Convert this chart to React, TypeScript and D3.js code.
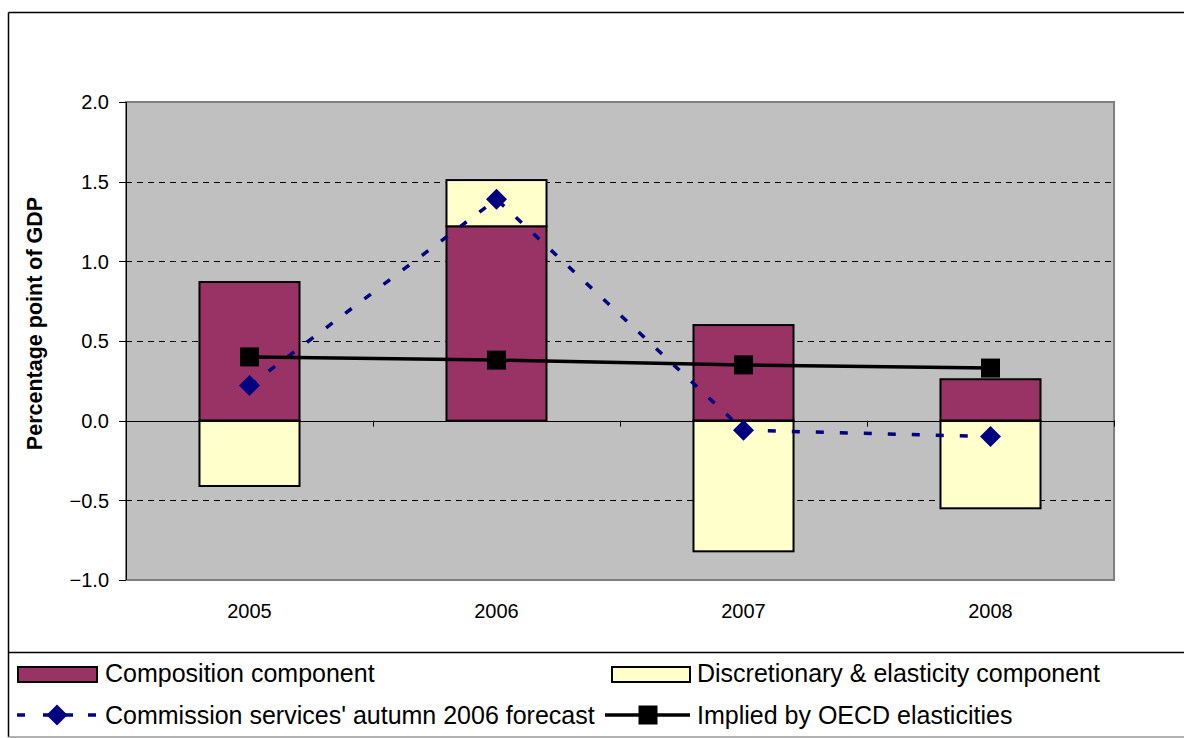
import React from "react";
import * as d3 from "d3";

// Budget balance change decomposition, percentage points of GDP
const years = ["2005", "2006", "2007", "2008"];
const composition = [0.87, 1.22, 0.6, 0.26];
const discretionary = [-0.41, 0.29, -0.82, -0.55];
const commissionForecast = [0.22, 1.39, -0.06, -0.1];
const oecdImplied = [0.4, 0.38, 0.35, 0.33];
const yTicks = [-1.0, -0.5, 0.0, 0.5, 1.0, 1.5, 2.0];

const W = 1184;
const H = 738;
const plot = { left: 126, right: 1114, top: 102, bottom: 580 };
const FONT = "'Liberation Sans', Arial, Helvetica, sans-serif";
const PURPLE = "#993366";
const CREAM = "#FFFFCC";
const NAVY = "#000080";

export default function App() {
  const x = d3.scaleBand<string>().domain(years).range([plot.left, plot.right]).padding(0);
  const y = d3.scaleLinear().domain([-1, 2]).range([plot.bottom, plot.top]);
  const barW = x.bandwidth() * 0.405;
  const cx = (yr: string) => (x(yr) as number) + x.bandwidth() / 2;

  const table = years.map((yr, i) => ({ year: yr, composition: composition[i], discretionary: discretionary[i] }));
  const stacked = d3
    .stack<any>()
    .keys(["composition", "discretionary"])
    .offset(d3.stackOffsetDiverging)(table);
  const fills = [PURPLE, CREAM];

  const lineGen = d3
    .line<number>()
    .x((_, i) => cx(years[i]))
    .y((v) => y(v));

  const diamond = (px: number, py: number, r: number) =>
    `M${px},${py - r}L${px + r},${py}L${px},${py + r}L${px - r},${py}Z`;

  const grid = yTicks.filter((t) => t !== 0 && t !== 2 && t !== -1);
  const y0 = y(0);

  return (
    <svg width={W} height={H} style={{ position: "absolute", left: 0, top: 0, background: "#fff" }} fontFamily={FONT}>
      {/* outer frame */}
      <line x1={8.5} y1={12.5} x2={W} y2={12.5} stroke="#000" strokeWidth={1.5} />
      <line x1={8.5} y1={12.5} x2={8.5} y2={737} stroke="#000" strokeWidth={1.5} />
      <line x1={8.5} y1={652.5} x2={W} y2={652.5} stroke="#000" strokeWidth={1.5} />
      <line x1={8.5} y1={737} x2={W} y2={737} stroke="#999" strokeWidth={1.5} />

      {/* plot area */}
      <rect x={plot.left} y={plot.top} width={plot.right - plot.left} height={plot.bottom - plot.top} fill="#C0C0C0" stroke="#808080" strokeWidth={2} />
      {grid.map((t) => (
        <line key={t} x1={plot.left} x2={plot.right} y1={Math.round(y(t)) + 0.5} y2={Math.round(y(t)) + 0.5} stroke="#000" strokeWidth={1} strokeDasharray="6,5" />
      ))}

      {/* bars */}
      {stacked.map((s, si) =>
        s.map((d, i) => {
          const top = y(Math.max(d[0], d[1]));
          const bot = y(Math.min(d[0], d[1]));
          return (
            <rect
              key={`${si}-${i}`}
              x={cx(years[i]) - barW / 2}
              y={top}
              width={barW}
              height={bot - top}
              fill={fills[si]}
              stroke="#000"
              strokeWidth={2}
            />
          );
        })
      )}

      {/* axes */}
      <line x1={plot.left + 0.5} x2={plot.left + 0.5} y1={plot.top} y2={plot.bottom} stroke="#000" strokeWidth={1} />
      <line x1={plot.left} x2={plot.right} y1={Math.round(y0) + 0.5} y2={Math.round(y0) + 0.5} stroke="#000" strokeWidth={1} />
      {years.map((yr) => {
        const bx = Math.round((x(yr) as number) + x.bandwidth()) + 0.5;
        return <line key={yr} x1={bx} x2={bx} y1={y0} y2={y0 + 6} stroke="#000" strokeWidth={1} />;
      })}
      {yTicks.map((t) => (
        <g key={t}>
          <line x1={plot.left - 7} x2={plot.left} y1={Math.round(y(t)) + 0.5} y2={Math.round(y(t)) + 0.5} stroke="#000" strokeWidth={1} />
          <text x={109} y={y(t)} dy="0.36em" textAnchor="end" fontSize={20} fill="#000">
            {d3.format(".1f")(t)}
          </text>
        </g>
      ))}
      {years.map((yr) => (
        <text key={yr} x={cx(yr)} y={618} textAnchor="middle" fontSize={20} fill="#000">
          {yr}
        </text>
      ))}
      <text
        transform="translate(42,323.5) rotate(-90)"
        textAnchor="middle"
        fontSize={21.5}
        fontWeight="bold"
        fill="#000"
      >
        Percentage point of GDP
      </text>

      {/* lines */}
      <path d={lineGen(commissionForecast) as string} fill="none" stroke={NAVY} strokeWidth={3.5} strokeDasharray="8,16" />
      <path d={lineGen(oecdImplied) as string} fill="none" stroke="#000" strokeWidth={3.5} />
      {commissionForecast.map((v, i) => (
        <path key={i} d={diamond(cx(years[i]), y(v), 10.5)} fill={NAVY} />
      ))}
      {oecdImplied.map((v, i) => (
        <rect key={i} x={cx(years[i]) - 9.5} y={y(v) - 9.5} width={19} height={19} fill="#000" />
      ))}

      {/* legend */}
      <g fontSize={25} fill="#000">
        <rect x={18} y={667} width={79} height={15} fill={PURPLE} stroke="#000" strokeWidth={2} />
        <text x={105} y={682}>Composition component</text>
        <rect x={612} y={667} width={78} height={15} fill={CREAM} stroke="#000" strokeWidth={2} />
        <text x={697} y={682}>Discretionary &amp; elasticity component</text>

        <line x1={17} x2={97} y1={715} y2={715} stroke={NAVY} strokeWidth={3.5} strokeDasharray="8,18,30,15" />
        <path d={diamond(57, 715, 10.5)} fill={NAVY} />
        <text x={105} y={724}>Commission services' autumn 2006 forecast</text>

        <line x1={605} x2={690} y1={715} y2={715} stroke="#000" strokeWidth={3.5} />
        <rect x={638.5} y={705.5} width={19} height={19} fill="#000" />
        <text x={697} y={724}>Implied by OECD elasticities</text>
      </g>
    </svg>
  );
}
